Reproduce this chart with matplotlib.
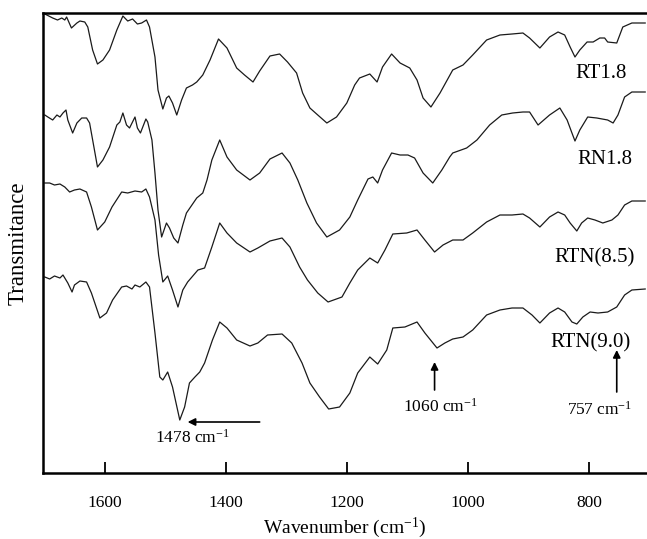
import matplotlib
matplotlib.use("Agg")
import matplotlib.pyplot as plt

# ---- data (wavenumber in cm-1, transmittance in arbitrary offset units) ----
wn_rt18 = [1699,1686,1678,1671,1666,1663,1655,1646,1641,1633,
           1628,1620,1612,1603,1592,1580,1570,1562,1554,1546,
           1539,1531,1526,1517,1512,1504,1498,1494,1488,1481,
           1473,1465,1455,1448,1438,1426,1412,1398,1382,1369,
           1355,1344,1327,1311,1298,1283,1273,1261,1248,1233,
           1217,1200,1187,1179,1162,1150,1141,1126,1112,1096,
           1084,1074,1061,1046,1025,1008,992,969,947,927,
           909,898,881,865,851,840,831,823,815,803,
           793,782,774,769,754,744,729,707]
t_rt18 = [459,455,453,455,453,456,445,450,452,451,
          446,423,409,413,423,443,457,452,454,449,
          450,453,446,416,383,364,375,377,370,358,
          373,385,388,391,398,413,434,425,405,398,
          391,402,417,419,411,400,380,365,358,350,
          356,370,388,395,399,391,406,419,410,405,
          393,375,366,380,403,408,418,433,438,439,
          440,435,425,436,441,438,426,416,423,431,
          431,435,435,431,430,446,450,450]

wn_rn18 = [1699,1694,1686,1679,1674,1669,1664,1661,1653,1646,
           1638,1630,1625,1617,1612,1603,1592,1580,1575,1570,
           1564,1559,1550,1546,1541,1532,1529,1522,1517,1512,
           1506,1498,1493,1486,1479,1471,1465,1448,1438,1431,
           1423,1410,1398,1382,1360,1344,1327,1307,1294,1281,
           1266,1250,1233,1212,1195,1182,1165,1157,1149,1141,
           1126,1112,1099,1088,1074,1058,1043,1030,1025,1002,
           985,964,944,926,909,898,884,865,848,836,
           828,823,815,802,787,778,769,760,752,741,
           729,707]
t_rn18 = [358,356,353,358,356,360,363,353,340,350,
          355,355,350,323,306,313,326,348,351,360,
          348,345,356,345,340,354,351,333,300,263,
          236,250,245,235,230,248,260,275,280,293,
          313,333,316,303,293,300,314,320,310,293,
          270,250,236,243,256,273,294,296,290,303,
          320,318,318,315,300,290,303,316,320,325,
          333,348,358,360,361,361,348,358,365,353,
          340,332,343,356,355,354,353,350,358,376,
          381,381]

wn_rtn85 = [1699,1691,1683,1674,1666,1658,1650,1641,1630,1622,
            1612,1600,1588,1572,1562,1550,1539,1532,1526,1517,
            1511,1504,1496,1488,1479,1471,1463,1446,1435,1423,
            1410,1398,1382,1360,1347,1327,1307,1294,1278,1265,
            1248,1231,1208,1195,1182,1162,1149,1137,1124,1101,
            1084,1071,1055,1041,1025,1008,992,969,947,927,
            909,898,881,865,851,840,831,820,812,802,
            790,777,762,752,741,729,707]
t_rtn85 = [290,290,288,289,286,281,283,284,281,266,
           243,251,266,281,280,282,281,284,276,253,
           218,191,197,183,166,183,191,203,205,226,
           250,240,230,221,225,232,235,226,206,193,
           180,171,176,190,203,215,210,223,239,240,
           243,233,221,228,233,233,240,251,258,258,
           259,255,246,256,261,258,250,242,250,255,
           253,250,253,258,268,272,272]

wn_rtn90 = [1699,1691,1683,1674,1669,1661,1654,1650,1641,1630,
            1622,1608,1597,1587,1572,1564,1555,1550,1542,1532,
            1526,1517,1509,1504,1496,1488,1476,1468,1460,1451,
            1443,1435,1422,1410,1398,1382,1360,1347,1331,1307,
            1291,1274,1261,1245,1230,1212,1195,1182,1162,1149,
            1134,1124,1104,1084,1071,1051,1038,1025,1008,992,
            969,947,927,909,894,881,865,851,840,828,
            820,810,798,785,769,754,741,729,707]
t_rtn90 = [196,194,197,195,198,190,181,188,192,191,
           180,155,160,173,186,187,184,188,186,191,
           186,140,96,93,101,86,53,66,90,96,
           101,110,133,151,145,133,127,130,138,139,
           130,110,90,76,64,66,80,100,116,109,
           123,145,146,151,140,125,130,134,136,143,
           158,163,165,165,158,150,160,165,161,151,
           149,156,161,160,161,166,178,183,184]

series = [(wn_rt18, t_rt18), (wn_rn18, t_rn18), (wn_rtn85, t_rtn85), (wn_rtn90, t_rtn90)]
curve_labels = ["RT1.8", "RN1.8", "RTN(8.5)", "RTN(9.0)"]
label_pos = [(780, 399), (774, 313), (790, 215), (798, 130)]

x_ticks = [1600, 1400, 1200, 1000, 800]

# peak annotations: text, text position, arrow tail, arrow head
peak_texts = ["1478 cm$^{-1}$", "1060 cm$^{-1}$", "757 cm$^{-1}$"]
peak_text_pos = [(1455, 35), (1046, 66), (782, 63)]
arrow_tail = [(1344, 51), (1055, 83), (754, 81)]
arrow_head = [(1463, 51), (1055, 111), (754, 123)]

# ---- drawing ----
plt.rcParams['font.family'] = ['Liberation Serif', 'DejaVu Serif']
plt.rcParams['mathtext.default'] = 'regular'

fig = plt.figure(figsize=(6.47, 5.39), dpi=100)
ax = fig.add_axes([43/647, 66/539, 1 - 43/647, 460/539])

for (wn, t) in series:
    ax.plot(wn, t, color='#1a1a1a', lw=0.9)

for lab, (x, y) in zip(curve_labels, label_pos):
    ax.text(x, y, lab, fontsize=15, ha='center', va='center')

for txt, tp, a0, a1 in zip(peak_texts, peak_text_pos, arrow_tail, arrow_head):
    ax.annotate('', xy=a1, xytext=a0,
                arrowprops=dict(arrowstyle='-|>', color='black', lw=1.2,
                                mutation_scale=11, shrinkA=0, shrinkB=0))
    ax.text(tp[0], tp[1], txt, fontsize=12.5, ha='center', va='center')

ax.set_xlim(1702, 704)
ax.set_ylim(0, 460)
ax.set_xticks(x_ticks)
ax.set_yticks([])
ax.tick_params(axis='x', direction='in', length=8, width=1.3, pad=16, labelsize=12.5,
               top=False)
for side in ['left', 'bottom', 'top']:
    ax.spines[side].set_linewidth(1.8)
ax.spines['right'].set_visible(False)

ax.set_xlabel("Wavenumber (cm$^{-1}$)", fontsize=14, labelpad=3)
ax.set_ylabel("Transmitance", fontsize=16.5)
ax.yaxis.set_label_coords(-0.024, 0.5)

fig.savefig("out.png", dpi=100)
